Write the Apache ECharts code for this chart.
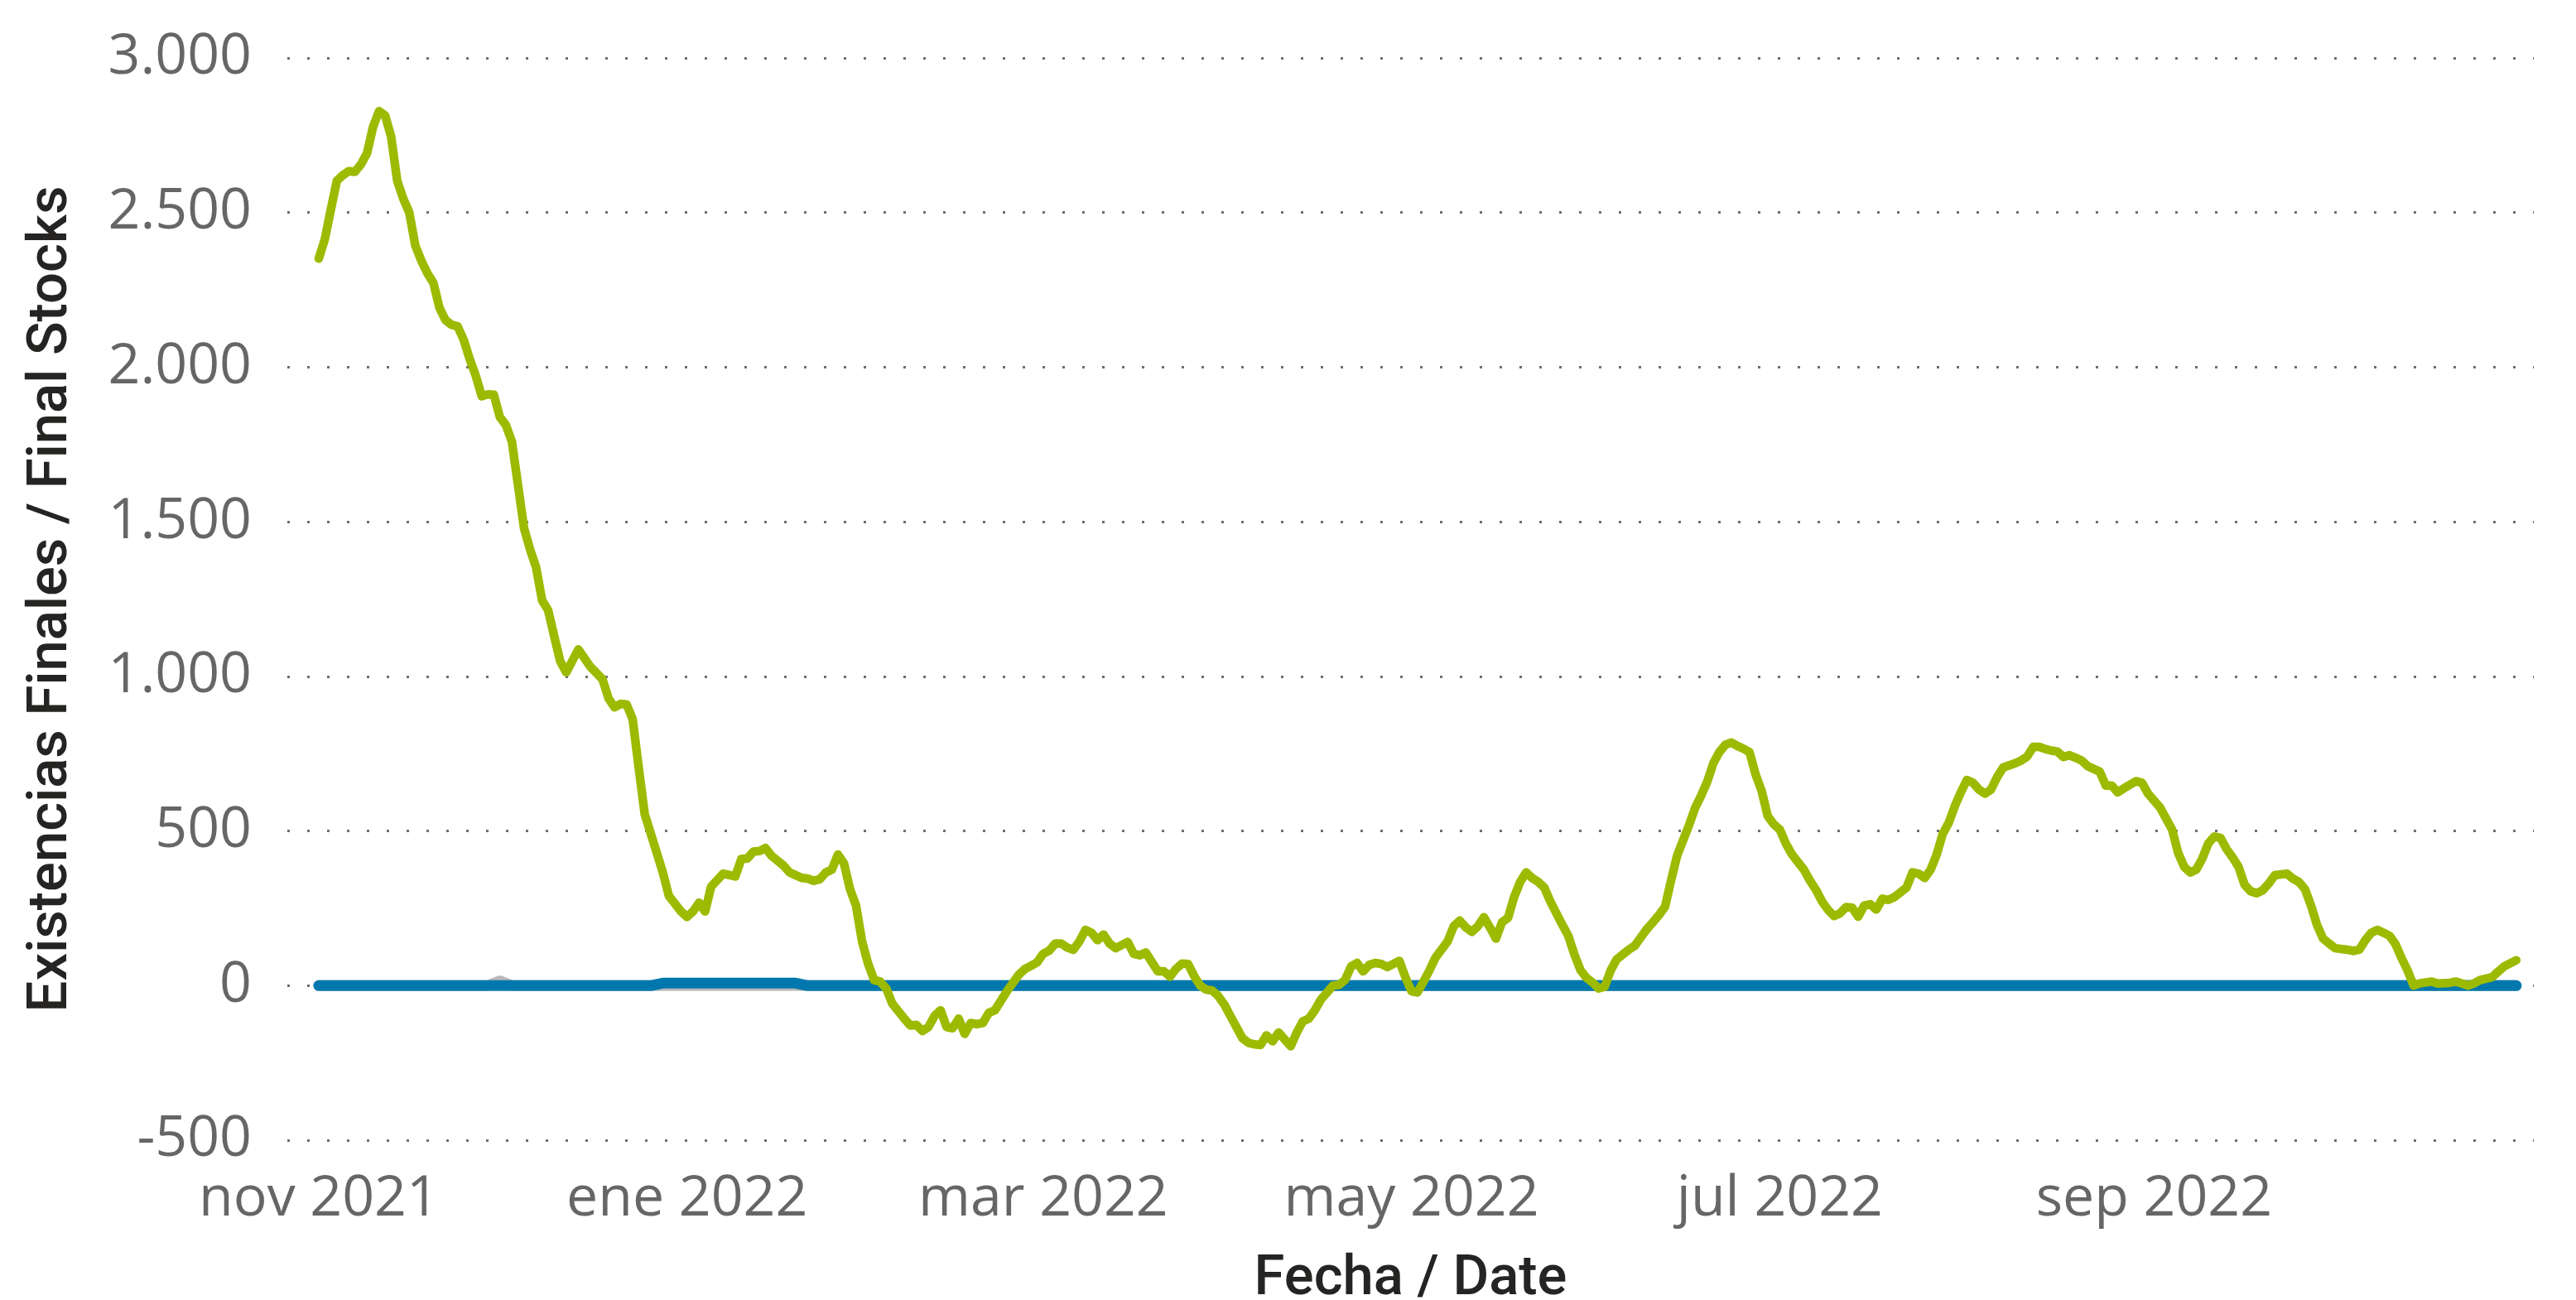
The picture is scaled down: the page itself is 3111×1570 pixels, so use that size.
<!DOCTYPE html>
<html>
<head>
<meta charset="utf-8">
<script src="https://cdn.jsdelivr.net/npm/echarts@6/dist/echarts.min.js"></script>
<style>
html,body{margin:0;padding:0;background:#fff;}
#chart{width:3111px;height:1570px;}
</style>
</head>
<body>
<div id="chart"></div>
<script>
// ---- DATA ----
const greenDates = [
'2021-11-01','2021-11-02','2021-11-03','2021-11-04','2021-11-05','2021-11-06','2021-11-07','2021-11-08','2021-11-09','2021-11-10',
'2021-11-11','2021-11-12','2021-11-13','2021-11-14','2021-11-15','2021-11-16','2021-11-17','2021-11-18','2021-11-19','2021-11-20',
'2021-11-21','2021-11-22','2021-11-23','2021-11-24','2021-11-25','2021-11-26','2021-11-27','2021-11-28','2021-11-29','2021-11-30',
'2021-12-01','2021-12-02','2021-12-03','2021-12-04','2021-12-05','2021-12-06','2021-12-07','2021-12-08','2021-12-09','2021-12-10',
'2021-12-11','2021-12-12','2021-12-14','2021-12-16','2021-12-18','2021-12-19','2021-12-20','2021-12-21','2021-12-22','2021-12-23',
'2021-12-24','2021-12-25','2021-12-27','2021-12-28','2021-12-29','2021-12-30','2021-12-31',
'2022-01-01','2022-01-02','2022-01-03','2022-01-04','2022-01-05','2022-01-07','2022-01-09','2022-01-10','2022-01-11','2022-01-12',
'2022-01-13','2022-01-14','2022-01-15','2022-01-17','2022-01-18','2022-01-20','2022-01-21','2022-01-22','2022-01-23','2022-01-24',
'2022-01-25','2022-01-26','2022-01-27','2022-01-28','2022-01-29','2022-01-30','2022-01-31',
'2022-02-01','2022-02-02','2022-02-03','2022-02-04','2022-02-06','2022-02-07','2022-02-08','2022-02-09','2022-02-10','2022-02-11',
'2022-02-12','2022-02-13','2022-02-14','2022-02-15','2022-02-16','2022-02-17','2022-02-18','2022-02-19','2022-02-20','2022-02-21',
'2022-02-22','2022-02-23','2022-02-24','2022-02-25','2022-02-26','2022-02-27','2022-02-28',
'2022-03-01','2022-03-02','2022-03-03','2022-03-04','2022-03-05','2022-03-06','2022-03-07','2022-03-08','2022-03-09','2022-03-10',
'2022-03-11','2022-03-12','2022-03-13','2022-03-15','2022-03-16','2022-03-17','2022-03-18','2022-03-19','2022-03-20','2022-03-21',
'2022-03-22','2022-03-23','2022-03-24','2022-03-25','2022-03-26','2022-03-27','2022-03-28','2022-03-29','2022-03-30','2022-03-31',
'2022-04-01','2022-04-02','2022-04-03','2022-04-04','2022-04-05','2022-04-06','2022-04-07','2022-04-08','2022-04-09','2022-04-11',
'2022-04-12','2022-04-13','2022-04-14','2022-04-15','2022-04-16','2022-04-18','2022-04-19','2022-04-20','2022-04-21','2022-04-22',
'2022-04-23','2022-04-24','2022-04-25','2022-04-26','2022-04-27','2022-04-29','2022-04-30',
'2022-05-01','2022-05-02','2022-05-03','2022-05-04','2022-05-05','2022-05-07','2022-05-08','2022-05-09','2022-05-10','2022-05-11',
'2022-05-12','2022-05-13','2022-05-14','2022-05-15','2022-05-16','2022-05-17','2022-05-18','2022-05-19','2022-05-20','2022-05-21',
'2022-05-22','2022-05-23','2022-05-24','2022-05-26','2022-05-27','2022-05-28','2022-05-29','2022-05-30','2022-05-31',
'2022-06-01','2022-06-02','2022-06-03','2022-06-04','2022-06-06','2022-06-07','2022-06-08','2022-06-09','2022-06-10','2022-06-11',
'2022-06-12','2022-06-13','2022-06-14','2022-06-15','2022-06-16','2022-06-17','2022-06-18','2022-06-19','2022-06-20','2022-06-21',
'2022-06-22','2022-06-23','2022-06-24','2022-06-25','2022-06-26','2022-06-27','2022-06-28','2022-06-29','2022-06-30',
'2022-07-01','2022-07-02','2022-07-03','2022-07-04','2022-07-05','2022-07-06','2022-07-07','2022-07-08','2022-07-09','2022-07-10',
'2022-07-11','2022-07-12','2022-07-13','2022-07-14','2022-07-15','2022-07-16','2022-07-17','2022-07-18','2022-07-19','2022-07-20',
'2022-07-22','2022-07-23','2022-07-24','2022-07-25','2022-07-26','2022-07-27','2022-07-28','2022-07-29','2022-07-30','2022-07-31',
'2022-08-01','2022-08-02','2022-08-03','2022-08-04','2022-08-05','2022-08-06','2022-08-07','2022-08-09','2022-08-10','2022-08-11',
'2022-08-12','2022-08-13','2022-08-14','2022-08-15','2022-08-16','2022-08-17','2022-08-18','2022-08-19','2022-08-20','2022-08-21',
'2022-08-23','2022-08-24','2022-08-25','2022-08-26','2022-08-27','2022-08-29','2022-08-30','2022-08-31',
'2022-09-02','2022-09-04','2022-09-05','2022-09-06','2022-09-07','2022-09-08','2022-09-09','2022-09-10','2022-09-11','2022-09-12',
'2022-09-13','2022-09-14','2022-09-15','2022-09-16','2022-09-17','2022-09-18','2022-09-19','2022-09-20','2022-09-21','2022-09-23',
'2022-09-24','2022-09-25','2022-09-26','2022-09-27','2022-09-28','2022-09-29','2022-09-30',
'2022-10-01','2022-10-03','2022-10-04','2022-10-05','2022-10-06','2022-10-07','2022-10-08','2022-10-09','2022-10-10','2022-10-11',
'2022-10-12','2022-10-13','2022-10-14','2022-10-15','2022-10-17','2022-10-18','2022-10-20','2022-10-21','2022-10-22','2022-10-23',
'2022-10-24','2022-10-25','2022-10-27','2022-10-28','2022-10-29','2022-10-30','2022-10-31'
];
const greenValues = [
2351,2413,2509,2603,2621,2634,2632,2656,2692,2777,
2828,2814,2745,2603,2545,2500,2393,2344,2304,2272,
2192,2152,2137,2132,2089,2027,1973,1906,1912,1911,
1839,1813,1759,1620,1480,1411,1353,1246,1214,1130,
1049,1013,1087,1031,991,929,900,911,909,862,
705,554,429,366,290,265,240,
222,240,268,240,320,362,353,409,411,433,
435,445,420,388,366,348,346,339,344,366,
375,424,395,312,259,143,71,
18,13,-9,-58,-107,-129,-127,-147,-134,-98,
-80,-134,-138,-107,-156,-121,-125,-121,-88,-80,
-49,-18,9,36,54,64,75,
103,113,136,136,123,116,143,180,171,147,
165,136,121,141,103,98,107,76,46,46,
29,54,71,70,31,0,-13,-16,-34,-61,
-98,-134,-170,-185,-190,-192,-161,-180,-152,-196,
-152,-116,-107,-80,-45,0,2,18,62,73,
46,67,73,70,60,80,27,
-18,-22,13,50,91,143,192,210,188,174,
192,221,188,152,205,219,286,335,366,348,
335,317,272,196,160,100,50,25,10,
-9,-4,49,85,116,129,156,183,205,228,
255,340,420,470,520,575,615,660,719,755,
779,786,775,766,755,683,630,549,522,
505,460,425,400,375,340,310,272,245,225,
234,254,252,223,259,263,246,281,277,286,
317,366,362,348,375,424,491,527,580,625,
665,656,634,621,634,674,705,719,728,741,
772,772,765,760,757,739,745,737,728,710,
692,647,647,625,638,661,656,621,
576,504,429,384,366,375,411,460,482,478,
442,415,384,326,305,299,308,330,357,362,
346,335,312,259,196,152,136,
121,116,112,116,147,171,180,171,161,134,
89,49,0,7,13,7,9,13,7,0,
7,18,27,45,62,72,82
];
const blueDates  = ['2021-11-01','2021-12-26','2021-12-28','2022-01-19','2022-01-21','2022-10-31'];
const blueValues = [0, 0, 8, 8, 0, 0];
const grayDates  = ['2021-11-01','2021-11-29','2021-12-01','2021-12-03','2022-10-31'];
const grayValues = [0, 0, 15, 0, 0];

const xTickDates  = ['2021-11-01','2022-01-01','2022-03-01','2022-05-01','2022-07-01','2022-09-01'];
const xTickLabels = ['nov 2021','ene 2022','mar 2022','may 2022','jul 2022','sep 2022'];
const yTicks = [-500, 0, 500, 1000, 1500, 2000, 2500, 3000];

const yAxisTitle = 'Existencias Finales / Final Stocks';
const xAxisTitle = 'Fecha / Date';

// ---- helpers ----
function ts(s){ const p = s.split('-').map(Number); return Date.UTC(p[0], p[1]-1, p[2]); }
const DAY = 86400000;
const xTickValues = xTickDates.map(ts);
function pairs(d, v){ return d.map((s,i)=>[ts(s), v[i]]); }
function fmtThousands(v){
  const neg = v < 0; let s = String(Math.abs(v));
  s = s.replace(/\B(?=(\d{3})+(?!\d))/g, '.');
  return (neg ? '-' : '') + s;
}

const chart = echarts.init(document.getElementById('chart'), null, {renderer:'canvas'});
const tickFont = {fontFamily:'"Open Sans", "Noto Sans", sans-serif', fontSize:68, color:'#666666'};
const titleFont = {fontFamily:'Roboto, "Noto Sans", sans-serif', fontSize:67, fontWeight:500, color:'#252423'};

chart.setOption({
  animation:false,
  backgroundColor:'#ffffff',
  grid:{left:347, right:51, top:70, bottom:193, containLabel:false, outerBoundsMode:'none'},
  xAxis:{
    type:'value',
    min: ts('2021-11-01') - 5.2*DAY,
    max: ts('2021-11-01') + 366.9*DAY,
    name: xAxisTitle, nameLocation:'middle', nameGap:136,
    nameTextStyle: titleFont,
    axisLine:{show:false}, axisTick:{show:false},
    splitLine:{show:false},
    axisLabel: Object.assign({
      margin:38,
      customValues: xTickValues,
      showMinLabel:true, showMaxLabel:true,
      formatter: function(val){
        let best = -1, bd = Infinity;
        xTickValues.forEach((t,i)=>{ const d = Math.abs(t - val); if (d < bd){ bd = d; best = i; } });
        return bd < DAY ? xTickLabels[best] : '';
      },
      hideOverlap:false
    }, tickFont)
  },
  yAxis:{
    type:'value', min:yTicks[0], max:yTicks[yTicks.length-1], interval:500,
    name: yAxisTitle, nameLocation:'middle', nameGap:250,
    nameTextStyle: titleFont,
    axisLine:{show:false}, axisTick:{show:false},
    axisLabel: Object.assign({margin:43, formatter: fmtThousands}, tickFont),
    splitLine:{show:true, lineStyle:{color:'#6e6e6e', width:3, type:[3,21]}}
  },
  series:[
    {type:'line', name:'gray', data:pairs(grayDates, grayValues), showSymbol:false, symbol:'none',
     lineStyle:{color:'#b9b9b9', width:13, cap:'round', join:'round'}, z:2},
    {type:'line', name:'blue', data:pairs(blueDates, blueValues), showSymbol:false, symbol:'none',
     lineStyle:{color:'#0078AE', width:13, cap:'round', join:'round'}, z:3},
    {type:'line', name:'green', data:pairs(greenDates, greenValues), showSymbol:false, symbol:'none',
     lineStyle:{color:'#9CBA00', width:10.5, cap:'round', join:'round'}, z:4}
  ]
});
</script>
</body>
</html>
